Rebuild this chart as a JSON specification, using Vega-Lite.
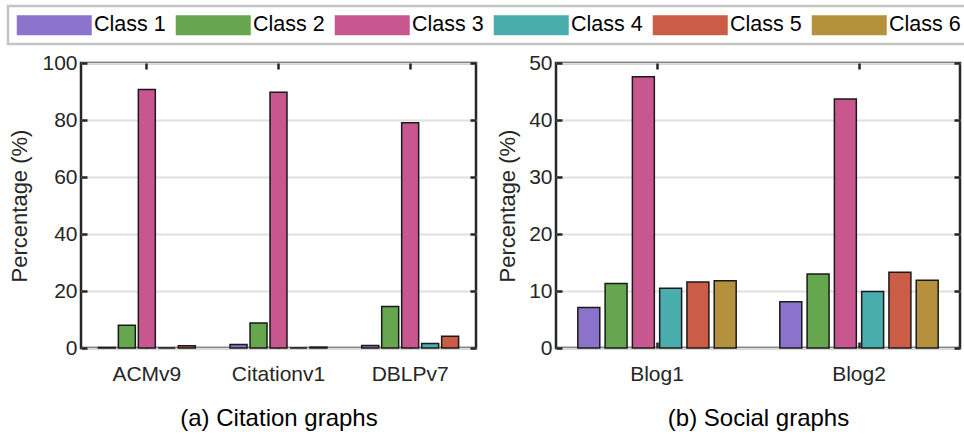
{
  "$schema": "https://vega.github.io/schema/vega-lite/v6.json",
  "padding": {"left": 6, "right": 2, "top": 4, "bottom": 2},
  "spacing": 16,
  "datasets": {
    "citation": [
      {"Dataset": "ACMv9", "Class": "Class 1", "Percentage": 0.2},
      {"Dataset": "ACMv9", "Class": "Class 2", "Percentage": 8.0},
      {"Dataset": "ACMv9", "Class": "Class 3", "Percentage": 90.7},
      {"Dataset": "ACMv9", "Class": "Class 4", "Percentage": 0},
      {"Dataset": "ACMv9", "Class": "Class 5", "Percentage": 0.8},
      {"Dataset": "Citationv1", "Class": "Class 1", "Percentage": 1.2},
      {"Dataset": "Citationv1", "Class": "Class 2", "Percentage": 8.8},
      {"Dataset": "Citationv1", "Class": "Class 3", "Percentage": 89.7},
      {"Dataset": "Citationv1", "Class": "Class 4", "Percentage": 0},
      {"Dataset": "Citationv1", "Class": "Class 5", "Percentage": 0.3},
      {"Dataset": "DBLPv7", "Class": "Class 1", "Percentage": 0.9},
      {"Dataset": "DBLPv7", "Class": "Class 2", "Percentage": 14.6},
      {"Dataset": "DBLPv7", "Class": "Class 3", "Percentage": 79.0},
      {"Dataset": "DBLPv7", "Class": "Class 4", "Percentage": 1.6},
      {"Dataset": "DBLPv7", "Class": "Class 5", "Percentage": 4.1}
    ],
    "social": [
      {"Dataset": "Blog1", "Class": "Class 1", "Percentage": 7.1},
      {"Dataset": "Blog1", "Class": "Class 2", "Percentage": 11.3},
      {"Dataset": "Blog1", "Class": "Class 3", "Percentage": 47.6},
      {"Dataset": "Blog1", "Class": "Class 4", "Percentage": 10.5},
      {"Dataset": "Blog1", "Class": "Class 5", "Percentage": 11.6},
      {"Dataset": "Blog1", "Class": "Class 6", "Percentage": 11.8},
      {"Dataset": "Blog2", "Class": "Class 1", "Percentage": 8.1},
      {"Dataset": "Blog2", "Class": "Class 2", "Percentage": 13.0},
      {"Dataset": "Blog2", "Class": "Class 3", "Percentage": 43.7},
      {"Dataset": "Blog2", "Class": "Class 4", "Percentage": 9.9},
      {"Dataset": "Blog2", "Class": "Class 5", "Percentage": 13.3},
      {"Dataset": "Blog2", "Class": "Class 6", "Percentage": 11.9}
    ]
  },
  "resolve": {"scale": {"xOffset": "independent", "x": "independent", "y": "independent"}},
  "hconcat": [
    {
      "data": {"name": "citation"},
      "width": 395,
      "height": 285,
      "encoding": {
        "xOffset": {
          "field": "Class", "type": "nominal",
          "scale": {"domain": ["Class 1", "Class 2", "Class 3", "Class 4", "Class 5"], "paddingInner": 0.15, "paddingOuter": 0.87}
        },
        "color": {
          "field": "Class", "type": "nominal",
          "scale": {
            "domain": ["Class 1", "Class 2", "Class 3", "Class 4", "Class 5", "Class 6"],
            "range": ["#8b72cb", "#66a64e", "#c9578f", "#4aadad", "#cb5c45", "#b5913e"]
          },
          "legend": {"title": null, "orient": "none", "legendX": -73, "legendY": -57, "direction": "horizontal"}
        }
      },
      "layer": [
        {
          "mark": {"type": "bar", "stroke": "#1a1a1a", "strokeWidth": 1.5},
          "encoding": {
            "x": {
              "field": "Dataset", "type": "nominal", "sort": ["ACMv9", "Citationv1", "DBLPv7"],
              "scale": {"paddingInner": 0, "paddingOuter": 0},
              "axis": {"title": "(a) Citation graphs", "labelAngle": 0, "labelPadding": 21, "titlePadding": 22}
            },
            "y": {
              "field": "Percentage", "type": "quantitative",
              "scale": {"domain": [0, 100]},
              "axis": {"title": "Percentage (%)", "values": [0, 20, 40, 60, 80, 100], "grid": true, "labelPadding": 10, "titlePadding": 10}
            }
          }
        },
        {
          "mark": {"type": "bar", "opacity": 0},
          "encoding": {
            "x": {
              "field": "Dataset", "type": "nominal", "sort": ["ACMv9", "Citationv1", "DBLPv7"],
              "axis": {"orient": "top", "labels": false, "title": null}
            },
            "y": {
              "field": "Percentage", "type": "quantitative",
              "axis": {"orient": "right", "labels": false, "title": null, "values": [0, 20, 40, 60, 80, 100], "grid": false}
            }
          }
        }
      ],
      "resolve": {"axis": {"x": "independent", "y": "independent"}}
    },
    {
      "data": {"name": "social"},
      "width": 404,
      "height": 285,
      "encoding": {
        "xOffset": {
          "field": "Class", "type": "nominal",
          "scale": {"domain": ["Class 1", "Class 2", "Class 3", "Class 4", "Class 5", "Class 6"], "paddingInner": 0.195, "paddingOuter": 0.8}
        },
        "color": {
          "field": "Class", "type": "nominal",
          "scale": {
            "domain": ["Class 1", "Class 2", "Class 3", "Class 4", "Class 5", "Class 6"],
            "range": ["#8b72cb", "#66a64e", "#c9578f", "#4aadad", "#cb5c45", "#b5913e"]
          },
          "legend": {"title": null, "orient": "none", "legendX": -73, "legendY": -57, "direction": "horizontal"}
        }
      },
      "layer": [
        {
          "mark": {"type": "bar", "stroke": "#1a1a1a", "strokeWidth": 1.5},
          "encoding": {
            "x": {
              "field": "Dataset", "type": "nominal",
              "scale": {"paddingInner": 0, "paddingOuter": 0},
              "axis": {"title": "(b) Social graphs", "labelAngle": 0, "labelPadding": 21, "titlePadding": 22}
            },
            "y": {
              "field": "Percentage", "type": "quantitative",
              "scale": {"domain": [0, 50]},
              "axis": {"title": "Percentage (%)", "values": [0, 10, 20, 30, 40, 50], "grid": true, "labelPadding": 10, "titlePadding": 9}
            }
          }
        },
        {
          "mark": {"type": "bar", "opacity": 0},
          "encoding": {
            "x": {
              "field": "Dataset", "type": "nominal",
              "axis": {"orient": "top", "labels": false, "title": null}
            },
            "y": {
              "field": "Percentage", "type": "quantitative",
              "axis": {"orient": "right", "labels": false, "title": null, "values": [0, 10, 20, 30, 40, 50], "grid": false}
            }
          }
        }
      ],
      "resolve": {"axis": {"x": "independent", "y": "independent"}}
    }
  ],
  "config": {
    "font": "Liberation Sans",
    "view": {"stroke": "#262626", "strokeWidth": 2.5},
    "axis": {
      "domain": false,
      "tickSize": -6,
      "tickWidth": 2.5,
      "tickColor": "#262626",
      "gridColor": "#e0e0e0",
      "gridWidth": 2,
      "labelFont": "Liberation Sans",
      "labelFontSize": 21,
      "labelColor": "#262626",
      "titleFont": "Liberation Sans",
      "titleFontSize": 22,
      "titleFontWeight": "normal",
      "titleColor": "#262626"
    },
    "axisX": {"titleFontSize": 24, "titleColor": "#000000"},
    "legend": {
      "padding": 8,
      "strokeColor": "#c4c4c4",
      "strokeWidth": 2.5,
      "symbolType": "M-3.75,-1H3.75V1H-3.75Z",
      "symbolSize": 400,
      "symbolOffset": 27.5,
      "symbolStrokeWidth": 0,
      "symbolOpacity": 1,
      "labelOffset": 29,
      "columnPadding": 9,
      "labelFont": "Liberation Sans",
      "labelFontSize": 21.5,
      "labelColor": "#000000"
    }
  }
}
